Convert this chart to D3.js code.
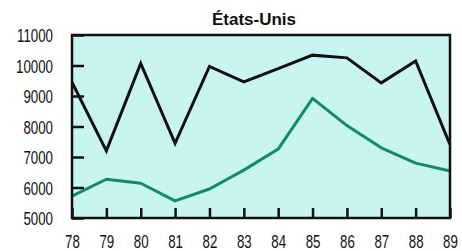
<!DOCTYPE html>
<html>
<head>
<meta charset="utf-8">
<script src="https://cdn.jsdelivr.net/npm/d3@7"></script>
<style>
  body { margin: 0; background: #fff; }
  svg { display: block; }
</style>
</head>
<body>
<svg></svg>
<script>
var title = "États-Unis";
var years = [78, 79, 80, 81, 82, 83, 84, 85, 86, 87, 88, 89];
var seriesBlack = [9450, 7200, 10070, 7450, 9970, 9460, 9900, 10340, 10250, 9430, 10150, 7400];
var seriesGreen = [5720, 6270, 6140, 5560, 5950, 6570, 7260, 8920, 8030, 7300, 6800, 6540];
var yTicks = [5000, 6000, 7000, 8000, 9000, 10000, 11000];

var margin = { left: 72, top: 35, right: 12, bottom: 33 },
    width = 462 - margin.left - margin.right,
    height = 251 - margin.top - margin.bottom;

var squeeze = 0.7; // tick labels use a condensed look

var svg = d3.select("svg")
    .attr("width", 462)
    .attr("height", 251);

var g = svg.append("g")
    .attr("transform", "translate(" + margin.left + "," + margin.top + ")");

var xScale = d3.scaleLinear()
    .domain([78, 89])
    .range([0, width]);

var yScale = d3.scaleLinear()
    .domain([5000, 11000])
    .range([height, 0]);

var font = "'Liberation Sans', Arial, sans-serif";

// plot background
g.append("rect")
    .attr("width", width)
    .attr("height", height)
    .attr("fill", "#c8f4f2");

// lines
var line = d3.line()
    .x(function (d, i) { return xScale(years[i]); })
    .y(function (d) { return yScale(d); });

g.append("path")
    .datum(seriesGreen)
    .attr("fill", "none")
    .attr("stroke", "#138a6a")
    .attr("stroke-width", 3)
    .attr("stroke-linejoin", "round")
    .attr("d", line);

g.append("path")
    .datum(seriesBlack)
    .attr("fill", "none")
    .attr("stroke", "#111")
    .attr("stroke-width", 3)
    .attr("stroke-linejoin", "miter")
    .attr("d", line);

// frame
g.append("rect")
    .attr("width", width)
    .attr("height", height)
    .attr("fill", "none")
    .attr("stroke", "#111")
    .attr("stroke-width", 2.5);

// y axis: ticks pointing inward
var yAxis = d3.axisRight(yScale)
    .tickValues(yTicks)
    .tickSize(12)
    .tickFormat(d3.format("d"));

var ya = g.append("g").call(yAxis);
ya.select(".domain").remove();
ya.selectAll(".tick line")
    .attr("stroke", "#111")
    .attr("stroke-width", 2.5);
ya.selectAll(".tick text")
    .attr("x", -19 / squeeze)
    .attr("dy", "0.36em")
    .attr("transform", "scale(" + squeeze + ",1)")
    .attr("text-anchor", "end")
    .attr("font-family", font)
    .attr("font-size", 19)
    .attr("fill", "#111");

// x axis: ticks pointing up
var xAxis = d3.axisTop(xScale)
    .tickValues(years)
    .tickSize(10)
    .tickFormat(d3.format("d"));

var xa = g.append("g")
    .attr("transform", "translate(0," + height + ")")
    .call(xAxis);
xa.select(".domain").remove();
xa.selectAll(".tick line")
    .attr("stroke", "#111")
    .attr("stroke-width", 2.5);
xa.selectAll(".tick text")
    .attr("y", 30)
    .attr("dy", 0)
    .attr("transform", "scale(" + squeeze + ",1)")
    .attr("font-family", font)
    .attr("font-size", 19)
    .attr("fill", "#111");

// title
svg.append("text")
    .attr("x", 254)
    .attr("y", 25)
    .attr("text-anchor", "middle")
    .attr("font-family", font)
    .attr("font-weight", "bold")
    .attr("font-size", 17)
    .attr("fill", "#111")
    .text(title);
</script>
</body>
</html>
